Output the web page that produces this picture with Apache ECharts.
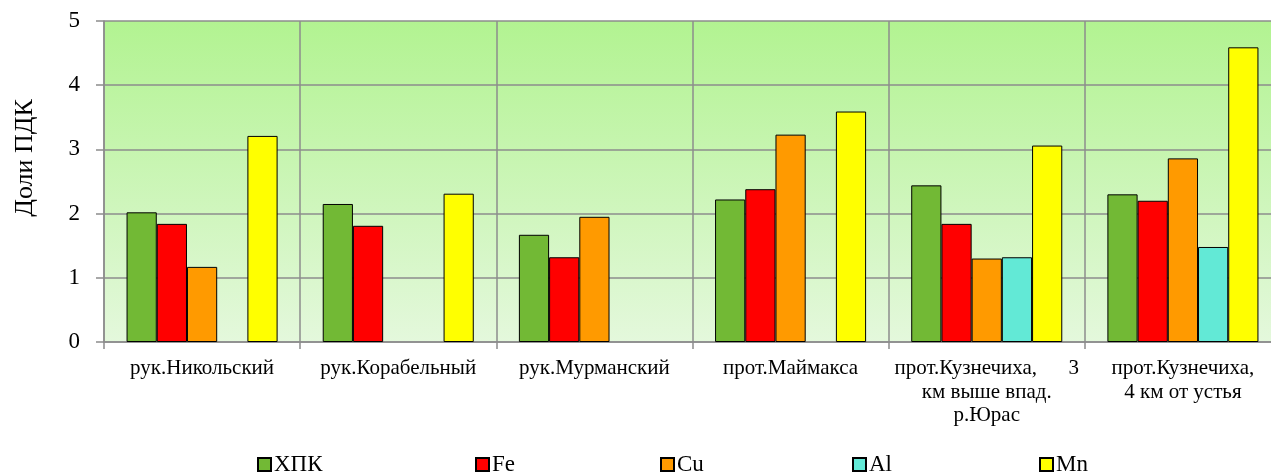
<!DOCTYPE html>
<html>
<head>
<meta charset="utf-8">
<script src="https://cdn.jsdelivr.net/npm/echarts@6/dist/echarts.min.js"></script>
<style>
html,body{margin:0;padding:0;background:#fff;overflow:hidden;}
#chart{width:1281px;height:474px;}
</style>
</head>
<body>
<div id="chart"></div>
<script>
const categories = [
  "рук.Никольский",
  "рук.Корабельный",
  "рук.Мурманский",
  "прот.Маймакса",
  "прот.Кузнечиха,      3\nкм выше впад.\nр.Юрас",
  "прот.Кузнечиха,\n4 км от устья"
];
const seriesNames = ["ХПК", "Fe", "Cu", "Al", "Mn"];
const xpk = [2.02, 2.15, 1.67, 2.22, 2.44, 2.30];
const fe  = [1.84, 1.81, 1.32, 2.38, 1.84, 2.20];
const cu  = [1.17, null, 1.95, 3.23, 1.30, 2.86];
const al  = [null, null, null, null, 1.32, 1.48];
const mn  = [3.21, 2.31, null, 3.59, 3.06, 4.59];
const yTicks = [0, 1, 2, 3, 4, 5];
const yTitle = "Доли ПДК";

const values = [xpk, fe, cu, al, mn];
const colors = ["#72b935", "#ff0000", "#ff9a00", "#62e9d6", "#ffff00"];
const legendLeft = [257, 475, 660, 852, 1039];
const serif = "'Liberation Serif', 'Times New Roman', serif";

const chart = echarts.init(document.getElementById('chart'), null, {renderer: 'canvas'});
const option = {
  animation: false,
  backgroundColor: '#ffffff',
  grid: {
    left: 104, top: 21, right: 0, bottom: 132,
    show: true,
    borderWidth: 0,
    backgroundColor: new echarts.graphic.LinearGradient(0, 0, 0, 1, [
      {offset: 0, color: '#b2f391'},
      {offset: 1, color: '#e4f8dc'}
    ])
  },
  xAxis: {
    type: 'category',
    data: categories,
    boundaryGap: true,
    axisLine: {show: true, lineStyle: {color: '#8c8c8c', width: 1.5}},
    axisTick: {show: true, length: 7, interval: 0, lineStyle: {color: '#8c8c8c', width: 1.5}},
    splitLine: {show: true, interval: 0, lineStyle: {color: '#8c8c8c', width: 1.5}},
    axisLabel: {
      interval: 0, margin: 15, color: '#000',
      fontFamily: serif, fontSize: 21, lineHeight: 23.5, align: 'center'
    }
  },
  yAxis: {
    type: 'value',
    min: 0, max: 5, interval: 1,
    axisLine: {show: true, lineStyle: {color: '#8c8c8c', width: 1.5}},
    axisTick: {show: true, length: 8, lineStyle: {color: '#8c8c8c', width: 1.5}},
    splitLine: {show: true, lineStyle: {color: '#8c8c8c', width: 1.5}},
    axisLabel: {
      margin: 24, color: '#000', fontFamily: serif, fontSize: 23,
      formatter: function (v) { return yTicks.indexOf(v) >= 0 ? String(v) : ''; }
    }
  },
  legend: seriesNames.map(function (n, i) {
    return {
      data: [n],
      left: legendLeft[i], top: 453,
      padding: 0,
      itemWidth: 13, itemHeight: 13, itemGap: 0,
      icon: 'rect',
      selectedMode: false,
      textStyle: {fontFamily: serif, fontSize: 23, color: '#000', padding: [0, 0, 0, -2]}
    };
  }),
  graphic: [{
    type: 'text',
    x: 25, y: 158,
    rotation: Math.PI / 2,
    style: {
      text: yTitle, fontFamily: serif, fontSize: 26, fill: '#000',
      align: 'center', verticalAlign: 'middle'
    }
  }],
  series: seriesNames.map(function (n, i) {
    return {
      name: n,
      type: 'bar',
      data: values[i],
      barGap: '0%',
      barCategoryGap: '23%',
      itemStyle: {color: colors[i], borderColor: '#000', borderWidth: 1},
      emphasis: {disabled: true}
    };
  })
};
chart.setOption(option);
</script>
</body>
</html>
